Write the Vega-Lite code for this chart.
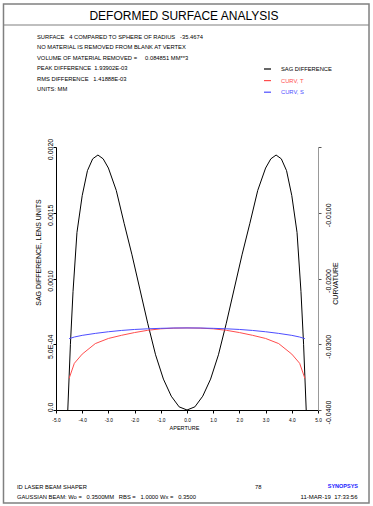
{
  "$schema": "https://vega.github.io/schema/vega-lite/v6.json",
  "width": 262,
  "height": 263,
  "autosize": {"type": "none"},
  "padding": {"left": 56, "top": 147, "right": 55, "bottom": 96},
  "background": "white",
  "datasets": {
    "sag": [
      {"aperture": -4.55, "sag": 0.0},
      {"aperture": -4.45, "sag": 0.0005},
      {"aperture": -4.35, "sag": 0.0009},
      {"aperture": -4.2, "sag": 0.00135},
      {"aperture": -4.0, "sag": 0.00163},
      {"aperture": -3.8, "sag": 0.00182},
      {"aperture": -3.6, "sag": 0.00191},
      {"aperture": -3.4, "sag": 0.001939},
      {"aperture": -3.2, "sag": 0.00191},
      {"aperture": -3.0, "sag": 0.00184},
      {"aperture": -2.7, "sag": 0.00167},
      {"aperture": -2.4, "sag": 0.00142},
      {"aperture": -2.1, "sag": 0.00118},
      {"aperture": -1.8, "sag": 0.00092},
      {"aperture": -1.5, "sag": 0.00066},
      {"aperture": -1.2, "sag": 0.00042},
      {"aperture": -0.9, "sag": 0.000235},
      {"aperture": -0.6, "sag": 0.000105},
      {"aperture": -0.3, "sag": 0.000024},
      {"aperture": 0.0, "sag": 0.0},
      {"aperture": 0.3, "sag": 0.000024},
      {"aperture": 0.6, "sag": 0.000105},
      {"aperture": 0.9, "sag": 0.000235},
      {"aperture": 1.2, "sag": 0.00042},
      {"aperture": 1.5, "sag": 0.00066},
      {"aperture": 1.8, "sag": 0.00092},
      {"aperture": 2.1, "sag": 0.00118},
      {"aperture": 2.4, "sag": 0.00142},
      {"aperture": 2.7, "sag": 0.00167},
      {"aperture": 3.0, "sag": 0.00184},
      {"aperture": 3.2, "sag": 0.00191},
      {"aperture": 3.4, "sag": 0.001939},
      {"aperture": 3.6, "sag": 0.00191},
      {"aperture": 3.8, "sag": 0.00182},
      {"aperture": 4.0, "sag": 0.00163},
      {"aperture": 4.2, "sag": 0.00135},
      {"aperture": 4.35, "sag": 0.0009},
      {"aperture": 4.45, "sag": 0.0005},
      {"aperture": 4.55, "sag": 0.0}
    ],
    "curv": [
      {"aperture": -4.5, "curvT": -0.0352, "curvS": -0.02915},
      {"aperture": -4.3, "curvT": -0.0329, "curvS": -0.0289},
      {"aperture": -4.0, "curvT": -0.0315, "curvS": -0.02865},
      {"aperture": -3.5, "curvT": -0.0299, "curvS": -0.02835},
      {"aperture": -3.0, "curvT": -0.02912, "curvS": -0.0281},
      {"aperture": -2.5, "curvT": -0.02864, "curvS": -0.0279},
      {"aperture": -2.0, "curvT": -0.02822, "curvS": -0.02775},
      {"aperture": -1.5, "curvT": -0.02788, "curvS": -0.02765},
      {"aperture": -1.0, "curvT": -0.02765, "curvS": -0.02758},
      {"aperture": -0.5, "curvT": -0.02755, "curvS": -0.02753},
      {"aperture": 0.0, "curvT": -0.02752, "curvS": -0.02752},
      {"aperture": 0.5, "curvT": -0.02755, "curvS": -0.02753},
      {"aperture": 1.0, "curvT": -0.02765, "curvS": -0.02758},
      {"aperture": 1.5, "curvT": -0.02788, "curvS": -0.02765},
      {"aperture": 2.0, "curvT": -0.02822, "curvS": -0.02775},
      {"aperture": 2.5, "curvT": -0.02864, "curvS": -0.0279},
      {"aperture": 3.0, "curvT": -0.02912, "curvS": -0.0281},
      {"aperture": 3.5, "curvT": -0.0299, "curvS": -0.02835},
      {"aperture": 4.0, "curvT": -0.0315, "curvS": -0.02865},
      {"aperture": 4.3, "curvT": -0.0329, "curvS": -0.0289},
      {"aperture": 4.5, "curvT": -0.0352, "curvS": -0.02915}
    ],
    "header": [
      {"lines": [
        "SURFACE\u00a0\u00a0\u00a04 COMPARED TO SPHERE OF RADIUS\u00a0\u00a0\u00a0-35.4674",
        "NO MATERIAL IS REMOVED FROM BLANK AT VERTEX",
        "\u00a0",
        "VOLUME OF MATERIAL REMOVED =\u00a0\u00a0\u00a0\u00a0\u00a00.084851 MM**3",
        "PEAK DIFFERENCE\u00a0\u00a01.93902E-03",
        "RMS DIFFERENCE\u00a0\u00a0\u00a01.41888E-03",
        "UNITS: MM"
      ]}
    ],
    "footerLeft": [
      {"lines": [
        "ID LASER BEAM SHAPER",
        "GAUSSIAN BEAM: Wo =\u00a0\u00a0\u00a00.3500MM\u00a0\u00a0\u00a0RBS =\u00a0\u00a0\u00a01.0000 Wx =\u00a0\u00a0\u00a00.3500"
      ]}
    ]
  },
  "layer": [
    {
      "layer": [
        {
          "data": {"name": "sag"},
          "mark": {"type": "line", "strokeWidth": 1},
          "encoding": {
            "x": {
              "field": "aperture",
              "type": "quantitative",
              "scale": {"domain": [-5, 5], "nice": false, "zero": false},
              "axis": {
                "title": "APERTURE",
                "values": [-5, -4, -3, -2, -1, 0, 1, 2, 3, 4, 5],
                "tickCount": 11,
                "labelExpr": "(datum.value < 0 ? '-' : '') + format(abs(datum.value), '.1f')",
                "labelFontSize": 4.8,
                "labelColor": "#000",
                "labelPadding": 4,
                "labelFlush": false,
                "labelOverlap": false,
                "labelSeparation": -40,
                "labelBound": false,
                "tickSize": 3,
                "tickColor": "#000",
                "domainColor": "#000",
                "grid": false,
                "titleFontSize": 5.5,
                "titleFontWeight": "normal",
                "titleColor": "#000",
                "titleX": 128,
                "titleY": 17.3,
                "titleAlign": "center",
                "titleBaseline": "middle"
              }
            },
            "y": {
              "field": "sag",
              "type": "quantitative",
              "scale": {"domain": [0, 0.002], "nice": false, "zero": false},
              "axis": {
                "orient": "left",
                "title": "SAG DIFFERENCE, LENS UNITS",
                "values": [0, 0.0005, 0.001, 0.0015, 0.002],
                "labelExpr": "datum.value == 0 ? '0.0' : (datum.value < 0.0007 ? '5.0E-04' : format(datum.value, '.4f'))",
                "labelAngle": -90,
                "labelAlign": "center",
                "labelBaseline": "bottom",
                "labelFontSize": 7,
                "labelColor": "#000",
                "labelPadding": 0,
                "labelOffset": {"condition": {"test": "datum.value == 0", "value": -3}, "value": 2},
                "labelOverlap": false,
                "tickSize": 3,
                "tickColor": "#000",
                "domainColor": "#000",
                "grid": false,
                "titleAngle": -90,
                "titleX": -18,
                "titleY": 105,
                "titleAlign": "center",
                "titleBaseline": "middle",
                "titleFontSize": 7,
                "titleFontWeight": "normal",
                "titleColor": "#000"
              }
            },
            "color": {
              "datum": "SAG DIFFERENCE",
              "type": "nominal",
              "scale": {
                "domain": ["SAG DIFFERENCE", "CURV, T", "CURV, S"],
                "range": ["#000000", "#ff4d4d", "#4d4dff"]
              },
              "legend": {
                "orient": "none",
                "direction": "vertical",
                "legendX": 207,
                "legendY": -82.5,
                "title": null,
                "padding": 0,
                "symbolType": "stroke",
                "symbolSize": 49,
                "symbolStrokeWidth": 1.2,
                "labelFontSize": 5.8,
                "labelOffset": 9,
                "rowPadding": 3.6,
                "encode": {"labels": {"update": {"fill": {"scale": "color", "field": "value"}}}}
              }
            }
          }
        },
        {
          "data": {"values": [{"element": "frame"}]},
          "mark": {"type": "rect", "fill": "transparent", "stroke": "#808080", "strokeWidth": 1.5},
          "encoding": {
            "x": {"datum": -7.004, "type": "quantitative"},
            "x2": {"datum": 6.947},
            "y": {"datum": 0.0030875, "type": "quantitative"},
            "y2": {"datum": -0.0007072}
          }
        },
        {
          "data": {"values": [{"element": "separator"}]},
          "mark": {"type": "rule", "stroke": "#808080", "strokeWidth": 1.2},
          "encoding": {
            "x": {"datum": -7.004, "type": "quantitative"},
            "x2": {"datum": 6.947},
            "y": {"datum": 0.0029278, "type": "quantitative"}
          }
        },
        {
          "data": {"values": [{"title": "DEFORMED SURFACE ANALYSIS"}]},
          "mark": {"type": "text", "fontSize": 12, "align": "center", "baseline": "middle", "color": "#000"},
          "encoding": {
            "x": {"datum": -0.1145, "type": "quantitative"},
            "y": {"datum": 0.0029962, "type": "quantitative"},
            "text": {"field": "title", "type": "nominal"}
          }
        },
        {
          "data": {"name": "header"},
          "mark": {"type": "text", "fontSize": 5.8, "align": "left", "baseline": "top", "lineHeight": 10.55, "color": "#000"},
          "encoding": {
            "x": {"datum": -5.725, "type": "quantitative"},
            "y": {"datum": 0.0028631, "type": "quantitative"},
            "text": {"field": "lines", "type": "nominal"}
          }
        },
        {
          "data": {"name": "footerLeft"},
          "mark": {"type": "text", "fontSize": 5.8, "align": "left", "baseline": "top", "lineHeight": 10.5, "color": "#000"},
          "encoding": {
            "x": {"datum": -6.489, "type": "quantitative"},
            "y": {"datum": -0.000559, "type": "quantitative"},
            "text": {"field": "lines", "type": "nominal"}
          }
        },
        {
          "data": {"values": [{"label": "78"}]},
          "mark": {"type": "text", "fontSize": 5.8, "align": "left", "baseline": "top", "color": "#000"},
          "encoding": {
            "x": {"datum": 2.595, "type": "quantitative"},
            "y": {"datum": -0.000559, "type": "quantitative"},
            "text": {"field": "label", "type": "nominal"}
          }
        },
        {
          "data": {"values": [{"label": "SYNOPSYS"}]},
          "mark": {"type": "text", "fontSize": 5.5, "fontWeight": "bold", "align": "right", "baseline": "top", "color": "#1a1aff"},
          "encoding": {
            "x": {"datum": 6.527, "type": "quantitative"},
            "y": {"datum": -0.0005643, "type": "quantitative"},
            "text": {"field": "label", "type": "nominal"}
          }
        },
        {
          "data": {"values": [{"label": "11-MAR-19\u00a0\u00a017:33:56"}]},
          "mark": {"type": "text", "fontSize": 6, "align": "right", "baseline": "top", "color": "#000"},
          "encoding": {
            "x": {"datum": 6.508, "type": "quantitative"},
            "y": {"datum": -0.000635, "type": "quantitative"},
            "text": {"field": "label", "type": "nominal"}
          }
        }
      ]
    },
    {
      "layer": [
        {
          "data": {"name": "curv"},
          "mark": {"type": "line", "strokeWidth": 1},
          "encoding": {
            "x": {"field": "aperture", "type": "quantitative"},
            "y": {
              "field": "curvT",
              "type": "quantitative",
              "scale": {"domain": [-0.04, 0], "nice": false, "zero": false},
              "axis": {
                "orient": "right",
                "title": "CURVATURE",
                "values": [-0.04, -0.03, -0.02, -0.01, 0],
                "labelExpr": "datum.value == 0 ? '' : '-' + format(abs(datum.value), '.4f')",
                "labelAngle": -90,
                "labelAlign": "center",
                "labelBaseline": "top",
                "labelFontSize": 7,
                "labelColor": "#000",
                "labelPadding": 3,
                "labelOffset": 2,
                "labelOverlap": false,
                "tickSize": 3,
                "tickColor": "#555",
                "domainColor": "#999",
                "grid": false,
                "titleAngle": -90,
                "titleX": 17.5,
                "titleY": 136,
                "titleAlign": "center",
                "titleBaseline": "middle",
                "titleFontSize": 7,
                "titleFontWeight": "normal",
                "titleColor": "#000"
              }
            },
            "color": {"datum": "CURV, T", "type": "nominal"}
          }
        },
        {
          "data": {"name": "curv"},
          "mark": {"type": "line", "strokeWidth": 1},
          "encoding": {
            "x": {"field": "aperture", "type": "quantitative"},
            "y": {"field": "curvS", "type": "quantitative"},
            "color": {"datum": "CURV, S", "type": "nominal"}
          }
        }
      ]
    }
  ],
  "resolve": {"scale": {"y": "independent"}},
  "config": {
    "view": {"stroke": null},
    "font": "Liberation Sans",
    "text": {"font": "Liberation Sans"},
    "axis": {"labelFont": "Liberation Sans", "titleFont": "Liberation Sans", "labelOverlap": false},
    "axisX": {"labelOverlap": false, "labelFlush": false},
    "axisQuantitative": {"labelOverlap": false},
    "legend": {"labelFont": "Liberation Sans"}
  }
}
